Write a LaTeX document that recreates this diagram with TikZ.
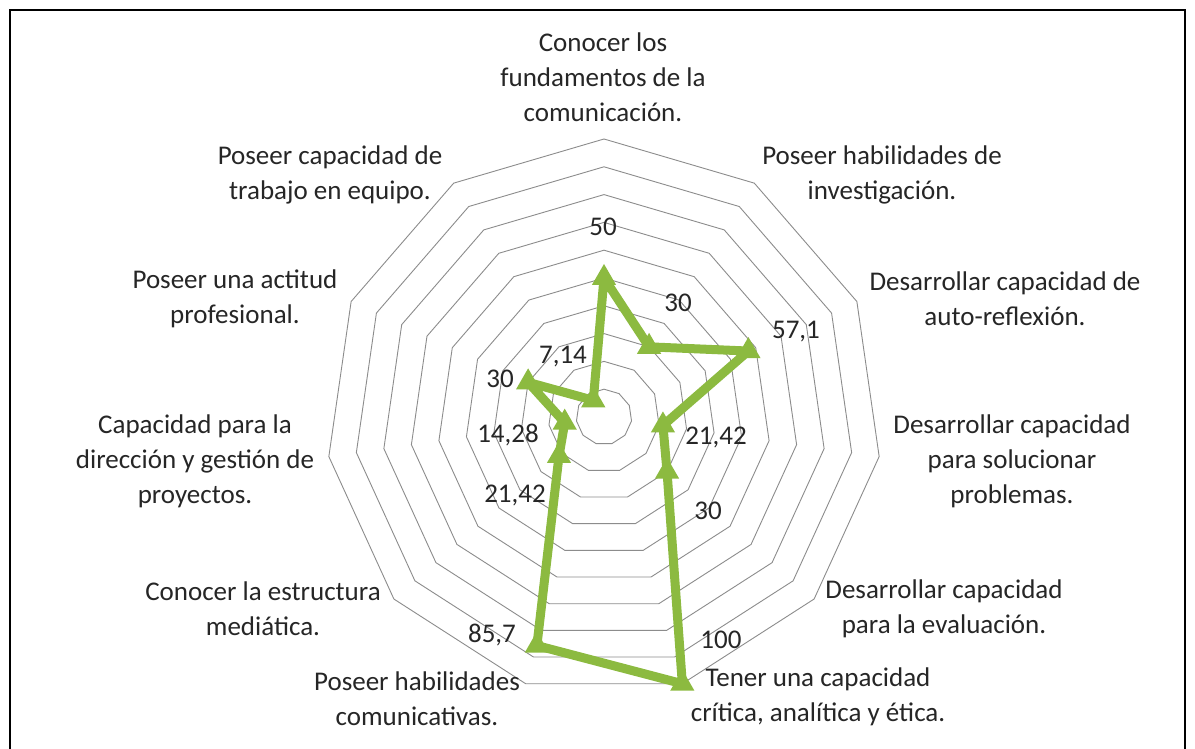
\documentclass[tikz,border=0pt]{standalone}
\usepackage{fontspec}
\setmainfont{Carlito}
\usetikzlibrary{shapes.geometric}
\definecolor{chartgreen}{RGB}{140,186,64}
\definecolor{ringgray}{RGB}{140,140,140}
\definecolor{labelgray}{RGB}{38,38,38}
\def\ringstep{27.8}
\tikzset{
	ringline/.style={draw=ringgray, line width=0.9pt},
	dataline/.style={draw=chartgreen, line width=9pt, line join=round},
	datamark/.style={regular polygon, regular polygon sides=3, fill=chartgreen, minimum size=28pt, inner sep=0pt},
	catlabel/.style={align=center, text=labelgray, font=\fontsize{27}{35}\selectfont, inner sep=0pt},
	vallabel/.style={text=labelgray, font=\fontsize{27}{35}\selectfont, inner sep=0pt}
}
\begin{document}
\begin{tikzpicture}[x=1pt,y=1pt]
	%%%%% START %%%%%
	\clip (0,0) rectangle (1195,749);
	\fill[white] (0,0) rectangle (1195,749);
	\draw[line width=2pt] (10,-10) rectangle (1185,739);
	
	\begin{scope}[shift={(604,332)}]
		% rings
		\foreach \r in {1,...,10}
			\draw[ringline] (90:{\r*\ringstep}) \foreach \k in {1,...,10} { -- ({90-\k*360/11}:{\r*\ringstep}) } -- cycle;
		
		% data
		\foreach \v [count=\k from 0] in {50,30,57.1,21.42,30,100,85.7,21.42,14.28,30,7.14}
			\coordinate (p\k) at ({90-\k*360/11}:{\v*\ringstep/10});
		\draw[dataline] (p0) -- (p1) -- (p2) -- (p3) -- (p4) -- (p5) -- (p6) -- (p7) -- (p8) -- (p9) -- (p10) -- cycle;
		\foreach \k in {0,...,10}
			\node[datamark] (m\k) at (p\k) {};
	\end{scope}
	
	% values
	\node[vallabel] (v0) at (603, 522) {50};
	\node[vallabel] (v1) at (678, 446) {30};
	\node[vallabel] (v2) at (796, 417) {57,1};
	\node[vallabel] (v3) at (716, 312) {21,42};
	\node[vallabel] (v4) at (708, 238) {30};
	\node[vallabel] (v5) at (721, 109) {100};
	\node[vallabel] (v6) at (492, 114) {85,7};
	\node[vallabel] (v7) at (515, 254) {21,42};
	\node[vallabel] (v8) at (508, 314) {14,28};
	\node[vallabel] (v9) at (500, 370) {30};
	\node[vallabel] (v10) at (563, 392) {7,14};
	
	% categories
	\node[catlabel] (c0) at (603, 672) {Conocer los\\fundamentos de la\\comunicación.};
	\node[catlabel] (c1) at (882, 574) {Poseer habilidades de\\investigación.};
	\node[catlabel] (c2) at (1005, 450) {Desarrollar capacidad de\\auto-reflexión.};
	\node[catlabel] (c3) at (1012, 288) {Desarrollar capacidad\\para solucionar\\problemas.};
	\node[catlabel] (c4) at (944, 140) {Desarrollar capacidad\\para la evaluación.};
	\node[catlabel] (c5) at (818, 52) {Tener una capacidad\\crítica, analítica y ética.};
	\node[catlabel] (c6) at (417, 50) {Poseer habilidades\\comunicativas.};
	\node[catlabel] (c7) at (263, 140) {Conocer la estructura\\mediática.};
	\node[catlabel] (c8) at (195, 288) {Capacidad para la\\dirección y gestión de\\proyectos.};
	\node[catlabel] (c9) at (235, 450) {Poseer una actitud\\profesional.};
	\node[catlabel] (c10) at (330, 574) {Poseer capacidad de\\trabajo en equipo.};
	
	%%%%% END %%%%%
\end{tikzpicture}
\end{document}
